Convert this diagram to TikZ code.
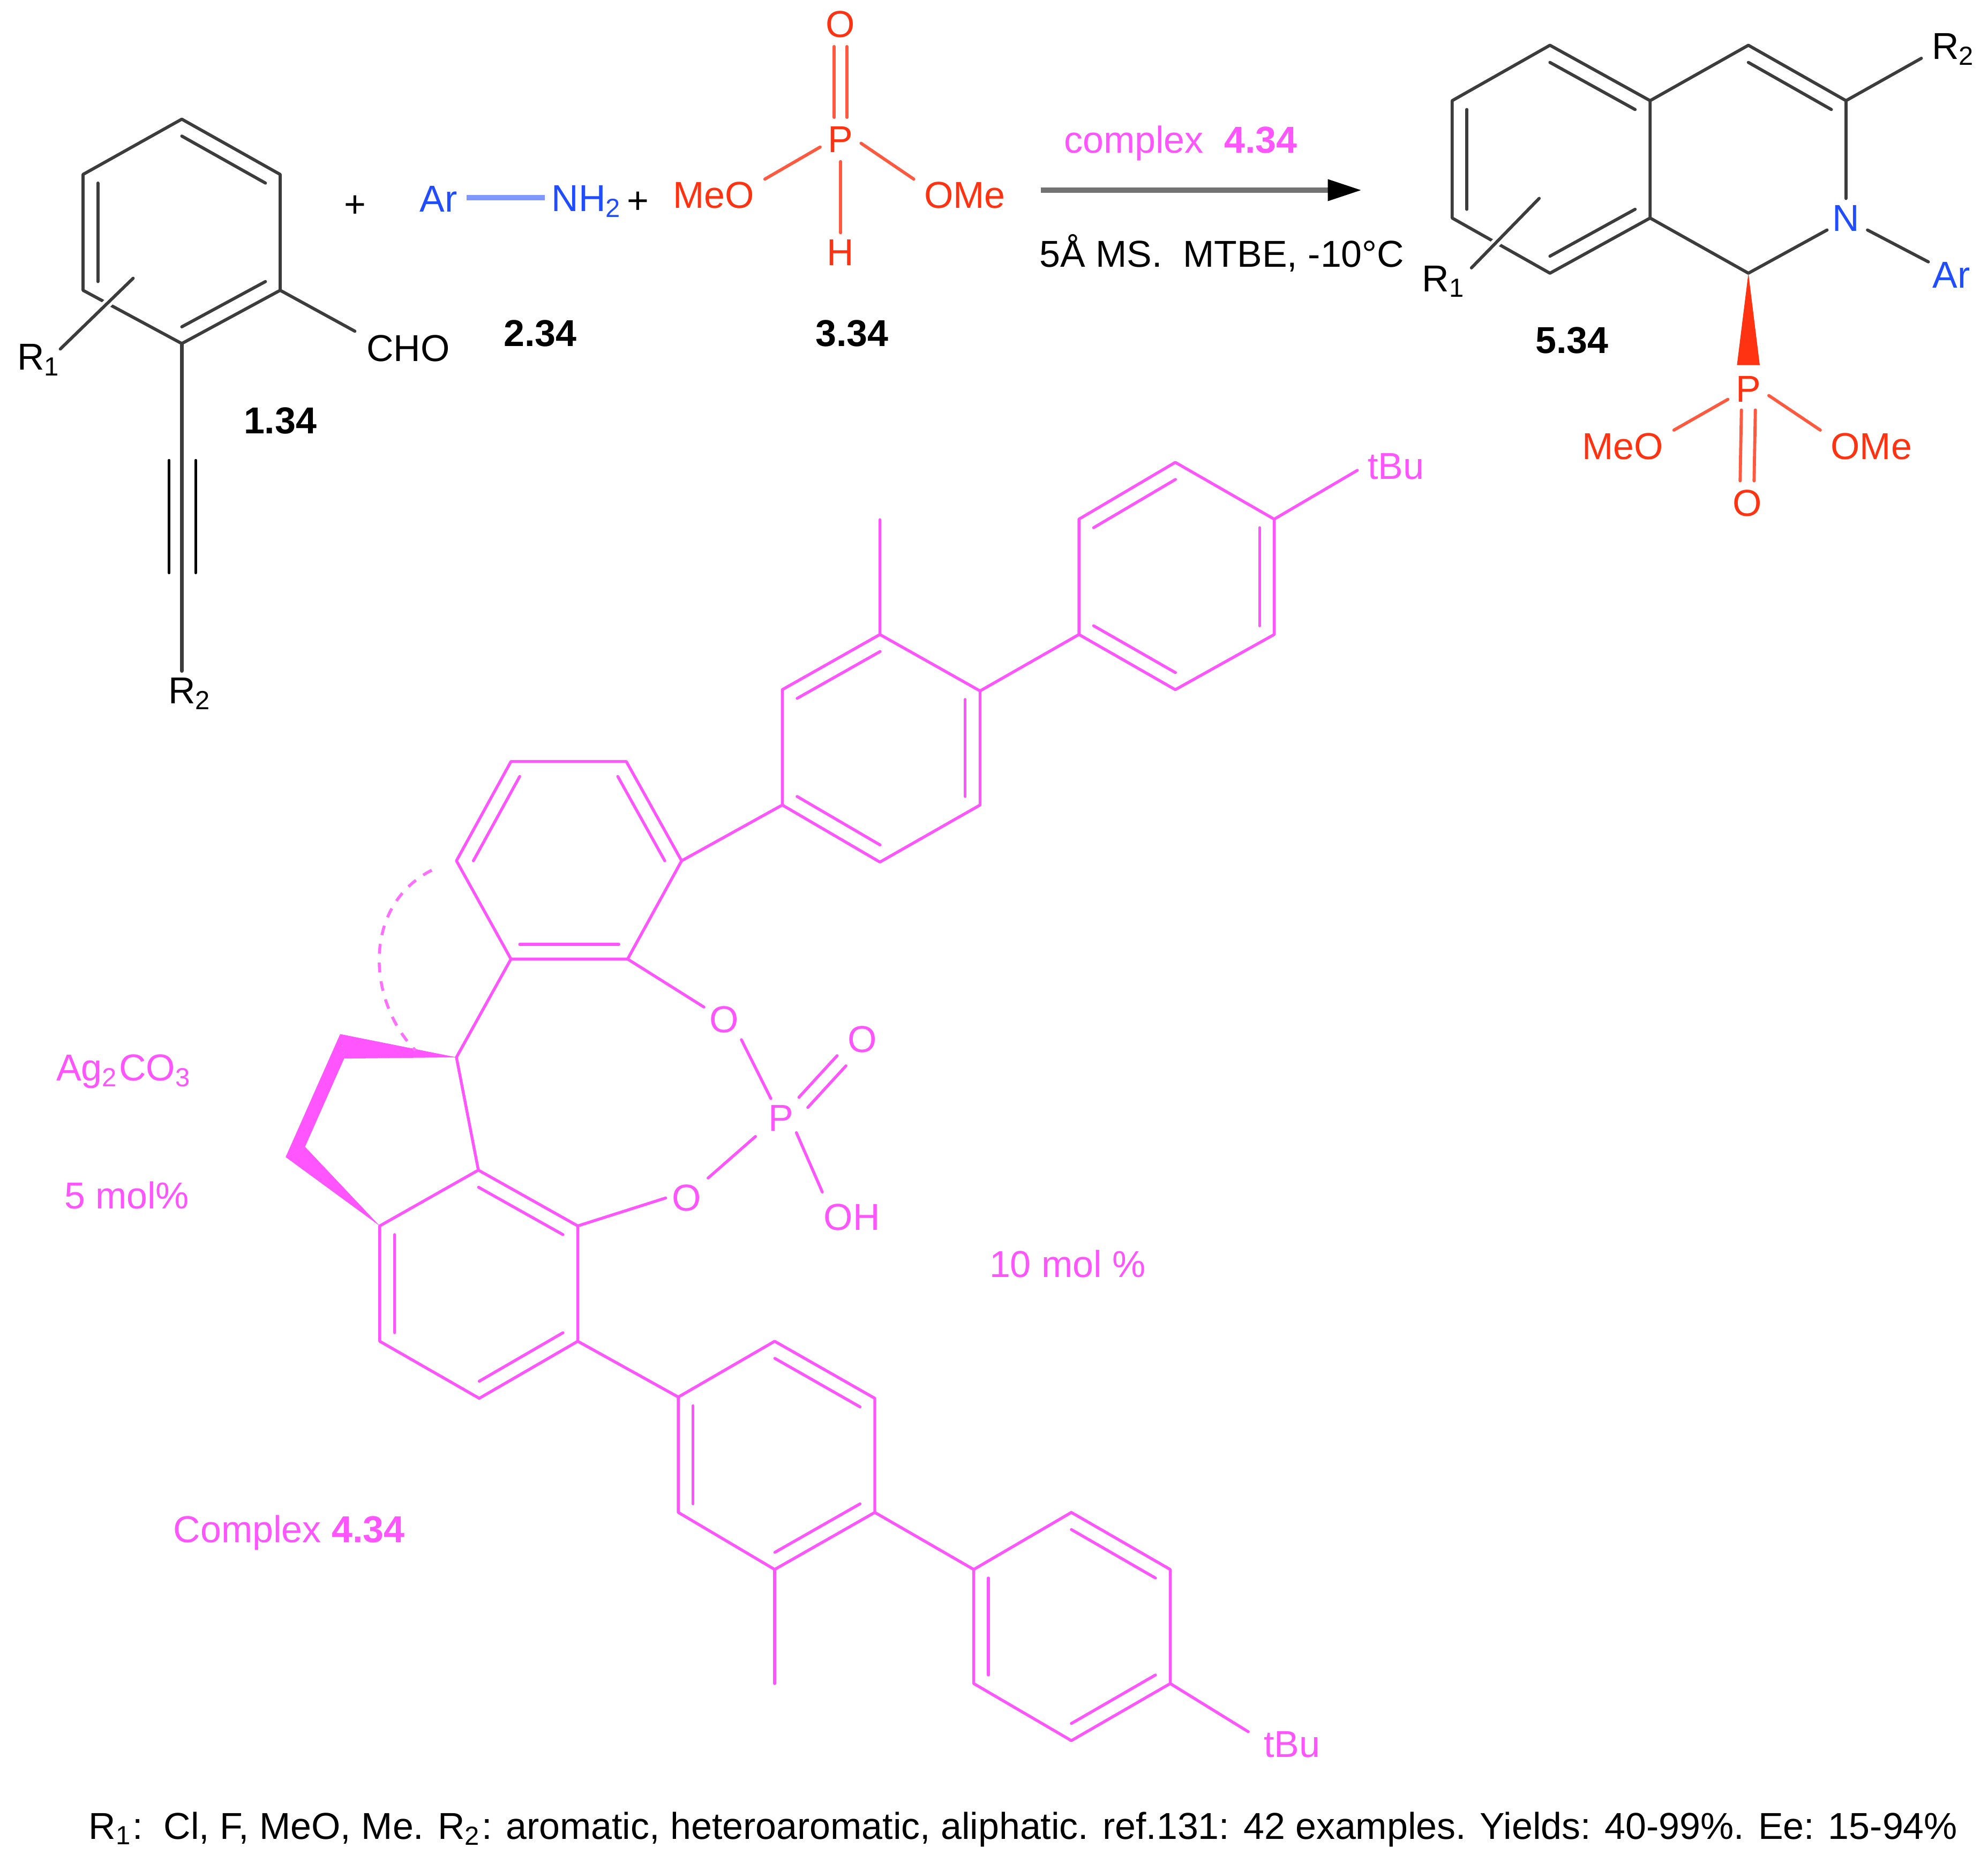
\documentclass[tikz,border=0pt]{standalone}
\usepackage{fontspec}
\setmainfont{Liberation Sans}
\usetikzlibrary{calc,arrows.meta}
\definecolor{bkb}{HTML}{3C3C3C}
\definecolor{rd}{HTML}{FF3311}
\definecolor{rdb}{HTML}{FF5A40}
\definecolor{bl}{HTML}{1F4DFF}
\definecolor{blb}{HTML}{7F98FF}
\definecolor{mg}{HTML}{FF55FF}
\newcommand\inset[4]{\draw[#1] ($(#2)!0.15!(#4)$) -- ($(#3)!0.15!(#4)$);}
\tikzset{
 lab/.style={font=\fontsize{8.4}{10}\selectfont,inner sep=1.5pt,outer sep=0pt},
 blab/.style={lab,font=\fontsize{8.4}{10}\selectfont\bfseries},
 bk/.style={draw=bkb,line width=0.7pt,line join=round,line cap=round},
 rb/.style={draw=rdb,line width=0.7pt,line cap=round},
 mb/.style={draw=mg,line width=0.65pt,line join=round,line cap=round},
 halo/.style={draw=white,line width=2pt},
}
\begin{document}
\begin{tikzpicture}[x=0.01cm,y=-0.01cm]
\useasboundingbox[fill=white] (0,0) rectangle (1568,1469.5);
% ---------- 1.34
\foreach \n/\x/\y in {a1/143.4/94,a2/221/137.6,a3/221/229,a4/143.4/271,a5/65.5/229,a6/65.5/137.6,ac/143.4/183,
 ar/105/219.5,at1/143.4/363,at2/143.4/452}
 \coordinate (\n) at (\x,\y);
\node[lab,text=black] (R1a) at (31,284) {R\textsubscript{1}};
\node[lab,text=black] (CHO) at (322,275) {CHO};
\node[lab,text=black] (R2a) at (150,547) {R\textsubscript{2}};
\draw[bk] (a1)--(a2)--(a3)--(a4)--(a5)--(a6)--cycle;
\inset{bk}{a1}{a2}{ac}\inset{bk}{a3}{a4}{ac}\inset{bk}{a5}{a6}{ac}
\draw[halo] (ar)--($(R1a.north east)+(-6,9)$);
\draw[bk] (ar)--($(R1a.north east)+(-6,9)$);
\draw[bk] (a3)--($(CHO.north west)+(-4,2)$);
\draw[bk,line width=0.85pt] (a4)--(a4|-R2a.north);
\draw[bk,draw=black,line width=0.55pt] ($(at1)+(-10,0)$)--($(at2)+(-10,0)$) ($(at1)+(11,0)$)--($(at2)+(11,0)$);
\node[blab] (n134) at (221,332) {1.34};
\node[lab] (plus1) at (280,163) {+};
% ---------- 2.34
\node[lab,text=bl] (Ara) at (346,157) {Ar};
\node[lab,text=bl] (NH) at (463,159) {NH\textsubscript{2}};
\node[lab] (plus2) at (503,160) {+};
\draw[draw=blb,line width=1.2pt] ($(Ara.east|-0,156)+(2,0)$)--(NH.west|-0,156);
\node[blab] (n234) at (426,263) {2.34};
% ---------- 3.34
\node[lab,text=rd] (P1) at (663,110) {P};
\node[lab,text=rd] (O1) at (663,19) {O};
\node[lab,text=rd] (H1) at (663,199) {H};
\node[lab,text=rd] (M1) at (563,154) {MeO};
\node[lab,text=rd] (M2) at (761,154) {OMe};
\draw[rb] ($(P1.north)+(-5,-2)$)--($(O1.south)+(-5,2)$) ($(P1.north)+(5,-2)$)--($(O1.south)+(5,2)$);
\draw[rb] ($(P1.south)+(0,2)$)--(H1.north);
\draw[rb] ($(P1.west)+(-1,6)$)--($(M1.north east)+(3,3)$);
\draw[rb] ($(P1.east)+(1,3)$)--($(M2.north west)+(-3,3)$);
\node[blab] (n334) at (672,263) {3.34};
% ---------- arrow
\coordinate (arL) at (821,150);
\coordinate (arR) at (1074,150);
\draw[draw=black!55,line width=1.15pt,-{Triangle[length=7.6pt,width=4.6pt,black]}] (arL)--(arR);
\node[lab,text=mg,anchor=west] (cx) at (834,113) {complex\ \ \textbf{4.34}};
\node[lab,anchor=west,inner sep=0pt] (cond) at (820,199.5) {5Å MS.\ \ MTBE, -10°C};
% ---------- 5.34
\foreach \n/\x/\y in {b1/1222.5/35.7,b2/1301.5/79.4,b3/1301.5/172,b4/1222.5/215.5,b5/1145.4/172,b6/1145.4/79.4,bc/1222.5/126,
 b7/1379/35.7,b8/1456/79.4,b10/1379/215.5,dc/1379/126,br/1214/156.5}
 \coordinate (\n) at (\x,\y);
\node[lab,text=black] (R1b) at (1139,222) {R\textsubscript{1}};
\node[lab,text=black] (R2b) at (1541,39) {R\textsubscript{2}};
\node[lab,text=bl] (N5) at (1456,172) {N};
\node[lab,text=bl] (Arb) at (1539,217) {Ar};
\draw[bk] (b1)--(b2)--(b3)--(b4)--(b5)--(b6)--cycle;
\draw[bk] (b2)--(b7)--(b8)--(N5.north);
\draw[bk] (b3)--(b10)--($(N5.south west)+(1,-6)$);
\draw[bk] ($(N5.south east)+(1,-6)$)--($(Arb.north west)+(2,5)$);
\draw[bk] (b8)--($(R2b.west)+(-3,7)$);
\inset{bk}{b1}{b2}{bc}\inset{bk}{b3}{b4}{bc}\inset{bk}{b5}{b6}{bc}
\inset{bk}{b7}{b8}{dc}
\draw[halo] (br)--($(R1b.north east)+(-1,7)$);
\draw[bk] (br)--($(R1b.north east)+(-1,7)$);
\node[lab,text=rd] (P5) at (1379,307) {P};
\node[lab,text=rd] (O5) at (1378,397) {O};
\node[lab,text=rd] (M3) at (1280,352) {MeO};
\node[lab,text=rd] (M4) at (1476,352) {OMe};
\fill[rd] (b10) -- (1388,288) -- (1370,288) -- cycle;
\draw[rb] ($(P5.south)+(-5.5,1)$)--($(O5.north)+(-5.5,-2)$) ($(P5.south)+(5.5,1)$)--($(O5.north)+(5.5,-2)$);
\draw[rb] ($(P5.west)+(-1,8)$)--($(M3.north east)+(3,3)$);
\draw[rb] ($(P5.east)+(1,5)$)--($(M4.north west)+(-3,3)$);
\node[blab] (n534) at (1240,268.6) {5.34};
% ---------- complex 4.34: vertices
\foreach \n/\x/\y in {
 c1/927/364.7,c2/1005/409.5,c3/1005/500.5,c4/927/544,c5/851/500.5,c6/851/409.5,cc/928/454.5,
 d1/694/500.5,d2/773/545,d3/773/635,d4/694/680,d5/617/635,d6/617/544,dcn/695/590,dm/694/410,
 e1/403/600.7,e2/494/600.7,e3/537.6/679,e4/495/756.5,e5/403/756.5,e6/360/679,ecn/449/679,
 s1/360/834,s2/377.3/923,
 f2/455.7/967,f3/455.7/1058,f4/378/1103,f5/299.5/1058,f6/299.5/967,fc/378/1013,
 g1/535/1102,g2/611/1058,g3/690/1103,g4/690/1193,g5/611/1238,g6/535/1193,gc/612/1148,gm/611/1328,
 h1/768/1238,h2/845/1193,h3/923/1238,h4/923/1328,h5/845/1373,h6/768/1328,hc/845/1283,
 dA/340.5/686.4,dB/327.7/828.6}
 \coordinate (\n) at (\x,\y);
\node[lab,text=mg] (tB1) at (1101,368) {tBu};
\node[lab,text=mg] (tB2) at (1019,1376) {tBu};
\node[lab,text=mg] (Oa) at (571,804.4) {O};
\node[lab,text=mg] (Ob) at (541.7,945) {O};
\node[lab,text=mg] (Pc) at (616,882) {P};
\node[lab,text=mg] (Oc) at (680,820) {O};
\node[lab,text=mg] (OH) at (672,960) {OH};
% rings
\draw[mb] (c1)--(c2)--(c3)--(c4)--(c5)--(c6)--cycle;
\inset{mb}{c1}{c6}{cc}\inset{mb}{c2}{c3}{cc}\inset{mb}{c4}{c5}{cc}
\draw[mb] (d1)--(d2)--(d3)--(d4)--(d5)--(d6)--cycle;
\inset{mb}{d1}{d6}{dcn}\inset{mb}{d2}{d3}{dcn}\inset{mb}{d4}{d5}{dcn}
\draw[mb] (e1)--(e2)--(e3)--(e4)--(e5)--(e6)--cycle;
\inset{mb}{e1}{e6}{ecn}\inset{mb}{e2}{e3}{ecn}\inset{mb}{e4}{e5}{ecn}
\draw[mb] (s2)--(f2)--(f3)--(f4)--(f5)--(f6)--cycle;
\inset{mb}{s2}{f2}{fc}\inset{mb}{f3}{f4}{fc}\inset{mb}{f5}{f6}{fc}
\draw[mb] (g1)--(g2)--(g3)--(g4)--(g5)--(g6)--cycle;
\inset{mb}{g2}{g3}{gc}\inset{mb}{g4}{g5}{gc}\inset{mb}{g6}{g1}{gc}
\draw[mb] (h1)--(h2)--(h3)--(h4)--(h5)--(h6)--cycle;
\inset{mb}{h2}{h3}{hc}\inset{mb}{h4}{h5}{hc}\inset{mb}{h6}{h1}{hc}
% links
\draw[mb] (c2)--($(tB1.west)+(-3,3)$);
\draw[mb] (c5)--(d2);
\draw[mb] (d1)--(dm);
\draw[mb] (e3)--(d5);
\draw[mb] (e5)--(s1)--(s2);
\draw[mb] (f3)--(g1);
\draw[mb] (g5)--(gm);
\draw[mb] (g4)--(h1);
\draw[mb] (h4)--($(tB2.west)+(-7,-10)$);
% phosphate
\draw[mb] (e4)--($(Oa.west)+(1,-10)$);
\draw[mb] ($(Oa.south east)+(-3,0)$)--($(Pc.north)+(-8,0)$);
\draw[mb] (f2)--(Ob.west);
\draw[mb] (Ob.north east)--($(Pc.south west)+(-5,-1)$);
\draw[mb] ($(Pc.south east)+(-3,-4)$)--($(OH.north west)+(4,-4)$);
\draw[mb] ($(Pc.north east)+(-1,-1)$)--($(Oc.south west)+(-3,-3)$);
\draw[mb] ($(Pc.north east)+(6,7)$)--($(Oc.south west)+(4,5)$);
% wedges
\fill[mg] (s1)--(268.3,815.7)--(271.4,835)--cycle;
\fill[mg] (268.3,815.7)--(271.4,835)--(240.6,904.6)--(225.3,912.7)--cycle;
\fill[mg] (240.6,904.6)--(225.3,912.7)--(f6)--cycle;
\draw[draw=mg!85,line width=0.65pt,dash pattern=on 2.2pt off 2pt] (dA) .. controls (285,715) and (290,790) .. (dB);
% labels
\node[lab,text=mg] (Ag) at (98,845) {Ag\textsubscript{2}CO\textsubscript{3}};
\node[lab,text=mg] (mol5) at (100,943) {5 mol\%};
\node[lab,text=mg] (mol10) at (842,997) {10 mol \%};
\node[lab,text=mg] (Cx) at (228,1209) {Complex \textbf{4.34}};
\node[lab,anchor=west,inner sep=0pt] (foot) at (70,1443) {R\textsubscript{1}:\ \ Cl, F, MeO, Me. R\textsubscript{2}: aromatic, heteroaromatic, aliphatic. ref.131: 42 examples. Yields: 40-99\%. Ee: 15-94\%};
\end{tikzpicture}
\end{document}
